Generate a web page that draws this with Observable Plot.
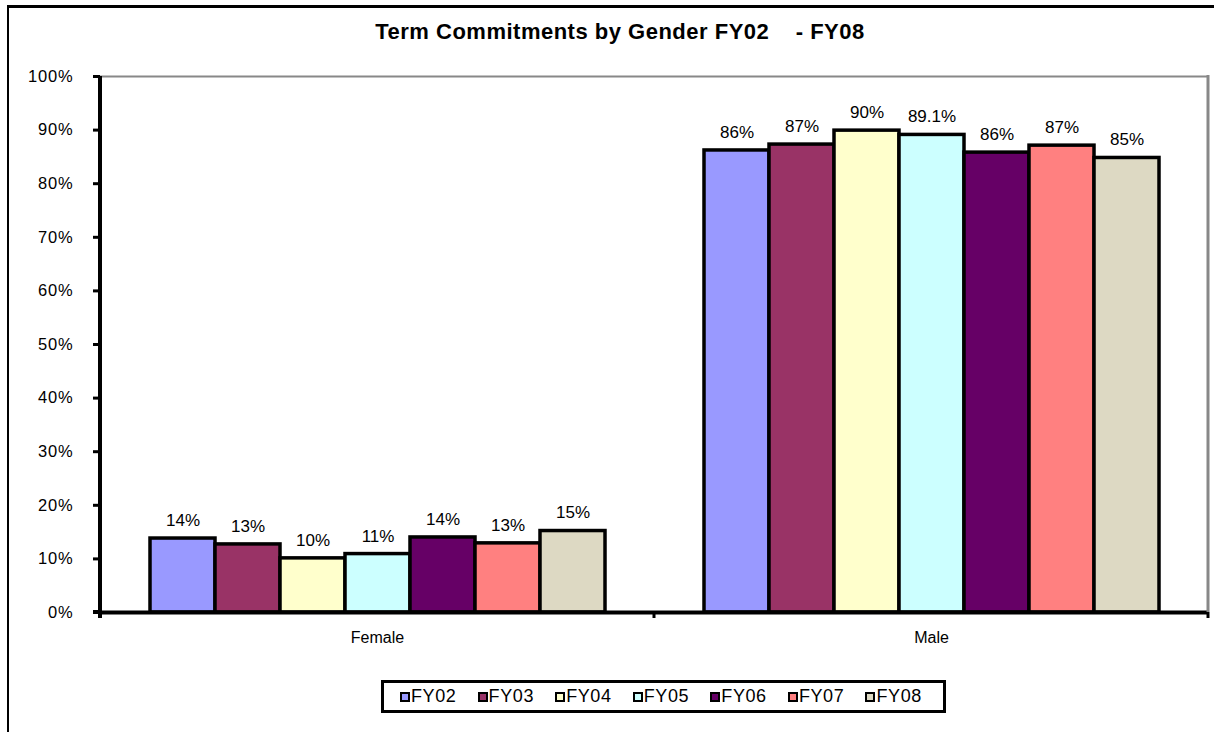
<!DOCTYPE html>
<html>
<head>
<meta charset="utf-8">
<script src="https://cdn.jsdelivr.net/npm/d3@7"></script>
<script src="https://cdn.jsdelivr.net/npm/@observablehq/plot@0.6"></script>
<style>
  body{margin:0;width:1214px;height:732px;overflow:hidden;background:#fff;font-family:Arial,"Liberation Sans",sans-serif;position:relative;}
  #frame{position:absolute;left:7px;top:5px;width:1220px;height:740px;border-top:3px solid #000;border-left:2px solid #000;}
  #title{position:absolute;top:20px;left:0;width:1240px;text-align:center;font-weight:bold;font-size:22px;letter-spacing:0.5px;line-height:24px;white-space:pre;color:#000;}
  #chart{position:absolute;left:0;top:60px;}
  #legend{position:absolute;left:381px;top:680px;width:559px;height:27px;border:3px solid #000;display:flex;align-items:center;padding-left:0;box-sizing:content-box;}
  .item{display:flex;align-items:center;width:78.5px;font-size:18px;letter-spacing:0.6px;color:#000;white-space:nowrap;}
  .sw{width:6px;height:6px;border:2.5px solid #000;margin-right:1px;flex:none;}
</style>
</head>
<body>
<div id="frame"></div>
<div id="title"></div>
<div id="chart"></div>
<div id="legend"></div>
<script>
const titleText = "Term Commitments by Gender FY02    - FY08";
const genders = ["Female", "Male"];
const years = ["FY02", "FY03", "FY04", "FY05", "FY06", "FY07", "FY08"];
const colors = ["#9999FF", "#993366", "#FFFFCC", "#CCFFFF", "#660066", "#FF8080", "#DDD9C3"];
const female = [13.8, 12.7, 10.1, 10.9, 14.0, 12.9, 15.2];
const male = [86.2, 87.3, 89.9, 89.1, 85.8, 87.1, 84.8];
const femaleLabels = ["14%", "13%", "10%", "11%", "14%", "13%", "15%"];
const maleLabels = ["86%", "87%", "90%", "89.1%", "86%", "87%", "85%"];
const yTicks = [0, 10, 20, 30, 40, 50, 60, 70, 80, 90, 100];

document.getElementById("title").textContent = titleText;

const data = [];
years.forEach((yr, i) => data.push({gender: "Female", year: yr, value: female[i], label: femaleLabels[i]}));
years.forEach((yr, i) => data.push({gender: "Male", year: yr, value: male[i], label: maleLabels[i]}));

const chart = Plot.plot({
  width: 1214,
  height: 600,
  marginLeft: 100,
  marginRight: 6,
  marginTop: 16,
  marginBottom: 48,
  style: {fontFamily: "Arial, 'Liberation Sans', sans-serif", fontSize: "16px", color: "#000", background: "transparent", overflow: "visible"},
  fx: {domain: genders, padding: 0, label: null, axis: "bottom", tickSize: 0, tickPadding: 19},
  x: {domain: years, paddingInner: 0, paddingOuter: 0.733, axis: null},
  y: {domain: [0, 100], ticks: yTicks, tickFormat: d => d + "%", tickSize: 7, tickPadding: 20, label: null},
  color: {domain: years, range: colors},
  marks: [
    Plot.ruleY([100], {stroke: "#888", strokeWidth: 2}),
    Plot.barY(data, {fx: "gender", x: "year", y: "value", fill: "year", stroke: "#000", strokeWidth: 3.5}),
    Plot.ruleY([0], {stroke: "#000", strokeWidth: 4}),
    Plot.text(data, {fx: "gender", x: "year", y: "value", text: "label", dy: -18, fontSize: 17})
  ]
});
document.getElementById("chart").appendChild(chart);

const svg = d3.select(chart);
const y = chart.scale("y");
const fx = chart.scale("fx");
const y0 = y.apply(0), y100 = y.apply(100);
const left = 100, right = 1214 - 6;
svg.selectAll('[aria-label="y-axis tick"]').attr("stroke-width", 3);
svg.selectAll('[aria-label="y-axis tick label"]').style("font-size", "16.5px");
svg.selectAll('[aria-label="y-axis tick label"] text').style("letter-spacing", "0.8px");
const deco = svg.append("g");
deco.append("line").attr("x1", right).attr("x2", right).attr("y1", y100 - 1).attr("y2", y0)
  .attr("stroke", "#888").attr("stroke-width", 3);
deco.append("line").attr("x1", left).attr("x2", left).attr("y1", y100).attr("y2", y0 + 6)
  .attr("stroke", "#000").attr("stroke-width", 4);
deco.append("line").attr("x1", left - 7).attr("x2", left).attr("y1", y0).attr("y2", y0)
  .attr("stroke", "#000").attr("stroke-width", 4);
genders.forEach(g => {
  const xb = fx.apply(g) + fx.bandwidth;
  deco.append("line").attr("x1", xb).attr("x2", xb).attr("y1", y0).attr("y2", y0 + 6)
    .attr("stroke", "#000").attr("stroke-width", 3);
});

const legend = d3.select("#legend");
legend.append("div").style("width", "16px").style("flex", "none");
years.forEach((yr, i) => {
  const it = legend.append("div").attr("class", "item");
  it.append("div").attr("class", "sw").style("background", colors[i]);
  it.append("span").text(yr);
});
</script>
</body>
</html>
